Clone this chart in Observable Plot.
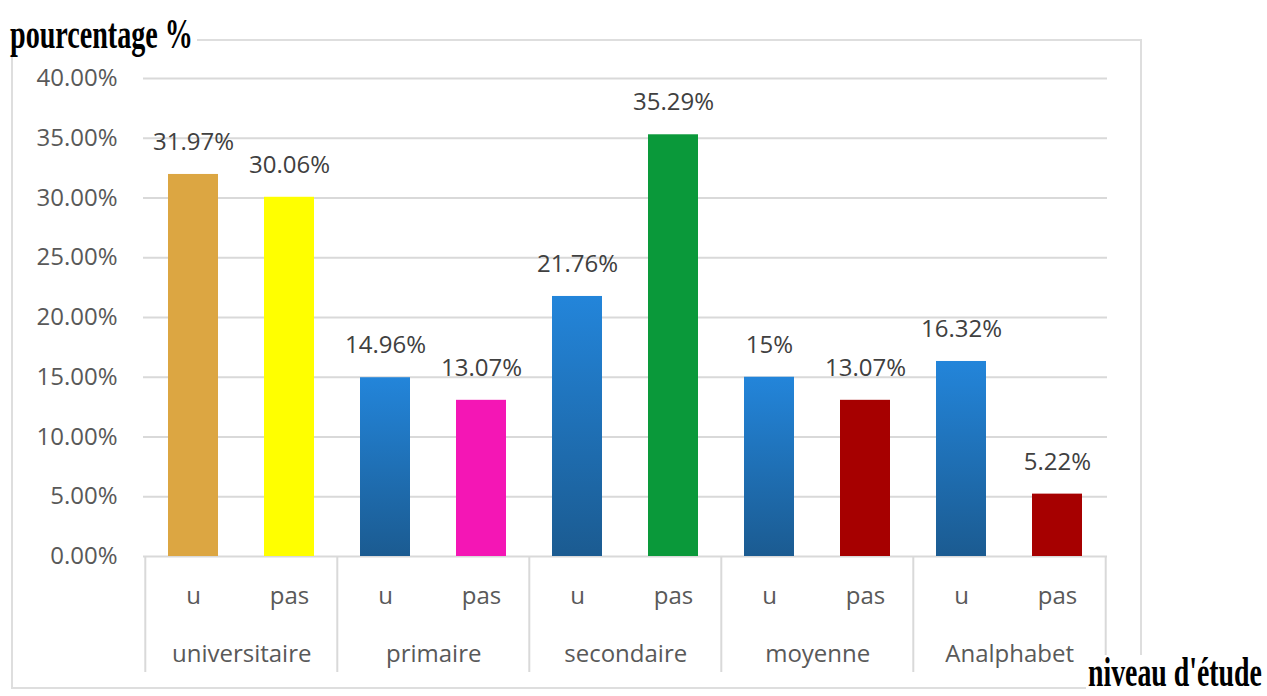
<!DOCTYPE html>
<html><head><meta charset="utf-8">
<script src="https://cdn.jsdelivr.net/npm/d3@7"></script>
<script src="https://cdn.jsdelivr.net/npm/@observablehq/plot@0.6"></script>
<style>
body{margin:0;background:#fff;width:1267px;height:696px;overflow:hidden;position:relative;font-family:"Open Sans",sans-serif}
#frame{position:absolute;left:11px;top:39px;width:1131px;height:650px;border:2px solid #dedede;box-sizing:border-box}
#chart{position:absolute;left:0;top:0}
#overlay{position:absolute;left:0;top:0}
</style></head><body>
<div id="frame"></div>
<div id="chart"></div>
<svg id="overlay" width="1267" height="696">
  <rect x="0" y="0" width="197" height="55" fill="#fff"></rect>
  <g id="t1"><text x="0" y="0" font-family="Liberation Serif" font-weight="bold" font-size="42" fill="#000">pourcentage %</text></g>
  <rect x="1086" y="655" width="181" height="41" fill="#fff"></rect>
  <g id="t2"><text x="0" y="0" font-family="Liberation Serif" font-weight="bold" font-size="42" fill="#000">niveau d'étude</text></g>
</svg>
<script>
const groups = ["universitaire", "primaire", "secondaire", "moyenne", "Analphabet"];
const subs = ["u", "pas"];
const uValues = [31.97, 14.96, 21.76, 15, 16.32];
const pasValues = [30.06, 13.07, 35.29, 13.07, 5.22];
const uFills = ["#DCA642", "url(#blueGrad)", "url(#blueGrad)", "url(#blueGrad)", "url(#blueGrad)"];
const pasFills = ["#FFFF00", "#F416B5", "#0A993A", "#A60000", "#A60000"];
const yTicks = [0, 5, 10, 15, 20, 25, 30, 35, 40];

const data = [];
groups.forEach((g, i) => {
  data.push({group: g, sub: subs[0], key: g + "|u", value: uValues[i], fill: uFills[i]});
  data.push({group: g, sub: subs[1], key: g + "|pas", value: pasValues[i], fill: pasFills[i]});
});
const keys = data.map(d => d.key);
const firstOfGroup = data.filter(d => d.sub === "u");
const lastBar = [data[data.length - 1]];
const step = (1107 - 143) / keys.length;

const svg = Plot.plot({
  width: 1267,
  height: 696,
  marginLeft: 143,
  marginRight: 160,
  marginTop: 78,
  marginBottom: 140,
  style: {background: "transparent", color: "#595959", fontFamily: "'Open Sans', sans-serif"},
  x: {domain: keys, paddingInner: 0.48, paddingOuter: 0.24, axis: null, label: null},
  y: {domain: [0, 40], axis: null, label: null},
  color: {type: "identity"},
  marks: [
    Plot.gridY(yTicks, {stroke: "#d9d9d9", strokeOpacity: 1, strokeWidth: 2}),
    Plot.axisY(yTicks, {tickSize: 0, tickPadding: 26, fontSize: 24, label: null, tickFormat: d => d.toFixed(2) + "%", fill: "#595959"}),
    Plot.ruleX(firstOfGroup, {x: "key", y1: 0, y2: 0, dx: -step / 2, insetBottom: -116, stroke: "#d9d9d9", strokeWidth: 2}),
    Plot.ruleX(lastBar, {x: "key", y1: 0, y2: 0, dx: step / 2, insetBottom: -116, stroke: "#d9d9d9", strokeWidth: 2}),
    Plot.barY(data, {x: "key", y: "value", fill: "fill"}),
    Plot.text(data, {x: "key", y: "value", text: d => d.value + "%", dy: -32, fontSize: 24, fill: "#404040"}),
    Plot.text(data, {x: "key", text: "sub", frameAnchor: "bottom", dy: 47, fontSize: 24, fill: "#595959"}),
    Plot.text(firstOfGroup, {x: "key", text: "group", frameAnchor: "bottom", dx: step / 2, dy: 105, fontSize: 24, fill: "#595959"})
  ]
});

const defs = d3.select(svg).insert("defs", ":first-child");
const grad = defs.append("linearGradient").attr("id", "blueGrad").attr("x1", 0).attr("y1", 0).attr("x2", 0).attr("y2", 1);
grad.append("stop").attr("offset", "0%").attr("stop-color", "#2385DA");
grad.append("stop").attr("offset", "100%").attr("stop-color", "#1B5B91");

document.getElementById("chart").appendChild(svg);

function fit(id, x, y, w) {
  const g = document.getElementById(id);
  const t = g.querySelector("text");
  const nat = t.getComputedTextLength();
  g.setAttribute("transform", `translate(${x},${y}) scale(${w / nat},1)`);
}
fit("t1", 10, 48, 183);
fit("t2", 1088, 686, 174);
</script>
</body></html>
